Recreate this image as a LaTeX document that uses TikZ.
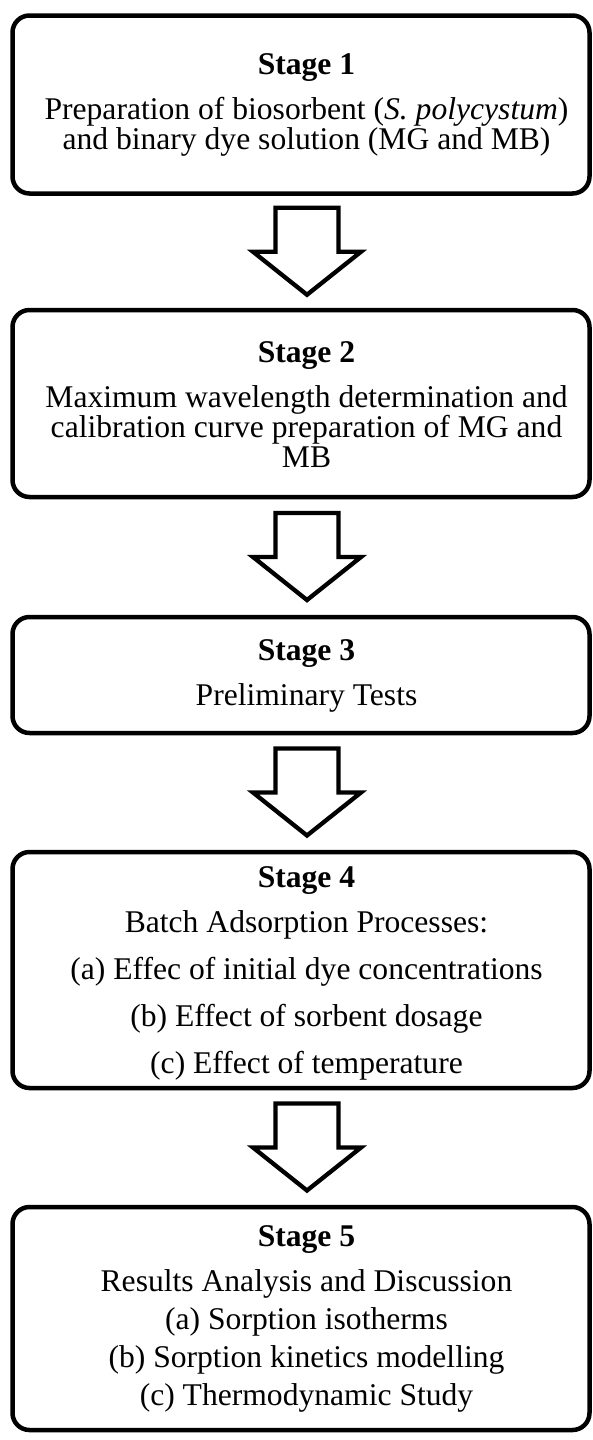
\documentclass[tikz,border=0pt]{standalone}
\usepackage{fontspec}
\setmainfont{Liberation Serif}
\usetikzlibrary{calc}
\begin{document}
\begin{tikzpicture}[x=1pt,y=-1pt,
  stagebox/.style={draw, rounded corners=17pt, line width=4.5pt, minimum width=577pt, inner sep=0pt},
  stagetext/.style={align=center, inner sep=0pt, font=\fontsize{31.6}{30}\selectfont},
  flowarrow/.style={draw, fill=white, line width=4.3pt}]
  \useasboundingbox (0,0) rectangle (592,1440);
  \node[stagebox, minimum height=178pt] (s1) at (301,104.5) {};
  \node[stagetext] (t1) at (306.5,104.5) {\textbf{Stage 1}\\[15pt]Preparation of biosorbent (\textit{S. polycystum})\\and binary dye solution (MG and MB)};
  \node[stagebox, minimum height=187pt] (s2) at (301,403.5) {};
  \node[stagetext] (t2) at (306.5,405) {\textbf{Stage 2}\\[15pt]Maximum wavelength determination and\\calibration curve preparation of MG and\\MB};
  \node[stagebox, minimum height=116pt] (s3) at (301,675) {};
  \node[stagetext] (t3) at (306.5,676) {\textbf{Stage 3}\\[15pt]Preliminary Tests};
  \node[stagebox, minimum height=236pt] (s4) at (301,970) {};
  \node[stagetext] (t4) at (306.5,973) {\textbf{Stage 4}\\[15pt]Batch Adsorption Processes:\\[17pt](a) Effec of initial dye concentrations\\[17pt](b) Effect of sorbent dosage\\[17pt](c) Effect of temperature};
  \node[stagebox, minimum height=223pt] (s5) at (301,1318.5) {};
  \node[stagetext] (t5) at (306.5,1319) {\textbf{Stage 5}\\[15pt]Results Analysis and Discussion\\[8pt](a) Sorption isotherms\\[8pt](b) Sorption kinetics modelling\\[8pt](c) Thermodynamic Study};
  \foreach \a/\b in {s1/s2,s2/s3,s3/s4,s4/s5} {
    \coordinate (m) at ($(\a.south)!0.5!(\b.north)+(6,0)$);
    \draw[flowarrow] ($(m)+(-31.5,-44)$) -- ++(63,0) -- ++(0,44) -- ++(22.5,0) -- ($(m)+(0,43)$) -- ($(m)+(-54,0)$) -- ++(22.5,0) -- cycle;
  }
\end{tikzpicture}
\end{document}
